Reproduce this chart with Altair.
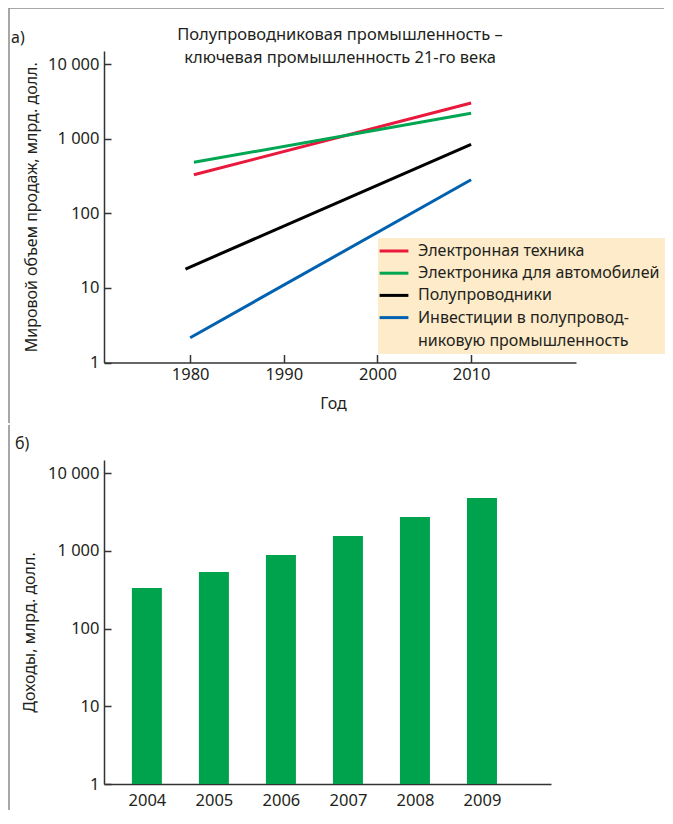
import altair as alt
import pandas as pd

FONT = "Noto Sans"
TXT = "#231f20"
AX = "#333333"

# ---------- panel a) data ----------
series_names = ["Электронная техника", "Электроника для автомобилей",
                "Полупроводники", "Инвестиции в полупроводниковую промышленность"]
series_colors = ["#e8193c", "#00a651", "#000000", "#0061b0"]
start_years = [1980.4, 1980.4, 1979.5, 1980.0]
end_years = [2010, 2010, 2010, 2010]
start_values = [329, 483, 17.9, 2.15]
end_values = [3010, 2190, 841, 282]
legend_last_lines = ["Инвестиции в полупровод-", "никовую промышленность"]

x_ticks_a = [1980, 1990, 2000, 2010]
y_tick_values = [1, 10, 100, 1000, 10000]
y_tick_labels = ["1", "10", "100", "1 000", "10 000"]

title_lines = ["Полупроводниковая промышленность –", "ключевая промышленность 21-го века"]

# ---------- panel б) data ----------
bar_years = [2004, 2005, 2006, 2007, 2008, 2009]
bar_values = [333, 535, 885, 1555, 2730, 4800]
bar_tick_marks = [2004.5, 2005.5, 2006.5, 2007.5, 2008.5]

rows = []
for n, y0, y1, v0, v1 in zip(series_names, start_years, end_years, start_values, end_values):
    rows.append({"series": n, "year": y0, "value": v0})
    rows.append({"series": n, "year": y1, "value": v1})
df_lines = pd.DataFrame(rows)
df_bars = pd.DataFrame({"year": bar_years, "value": bar_values})


def label_expr(vals, labels):
    expr = "''"
    for v, l in reversed(list(zip(vals, labels))):
        expr = f"datum.value == {v} ? '{l}' : ({expr})"
    return expr


one = pd.DataFrame({"a": [0]})

W1, H1 = 472, 311.5
W2, H2 = 447, 324

y_axis_common = dict(
    values=y_tick_values, labelExpr=label_expr(y_tick_values, y_tick_labels),
    tickSize={"expr": "-7"}, labelPadding=12, grid=False,
    domainColor=AX, domainWidth=1.5, tickColor=AX, tickWidth=1.5,
    labelFont=FONT, labelFontSize=16.5, labelColor=TXT,
    titleFont=FONT, titleFontSize=16, titleFontWeight="normal", titleColor=TXT,
)

# ---------- panel a) ----------
legend_expr = (f"datum.label == '{series_names[3]}' ? "
               f"['{legend_last_lines[0]}', '{legend_last_lines[1]}'] : datum.label")

lines = alt.Chart(df_lines).mark_line(strokeWidth=3, strokeCap="butt").encode(
    x=alt.X("year:Q", scale=alt.Scale(domain=[1970.8, 2021.2], nice=False, zero=False),
            axis=alt.Axis(values=x_ticks_a, format="d", tickSize={"expr": "-8"}, labelPadding=11.5,
                          grid=False, domainColor=AX, domainWidth=1.5, tickColor=AX, tickWidth=1.5,
                          labelFont=FONT, labelFontSize=16.5, labelColor=TXT, labelFlush=False,
                          title="Год", titleFont=FONT, titleFontSize=16, titleFontWeight="normal",
                          titleColor=TXT, titlePadding=13, titleX=229)),
    y=alt.Y("value:Q", scale=alt.Scale(type="log", domain=[1, 15000], nice=False),
            axis=alt.Axis(title="Мировой объем продаж, млрд. долл.", titlePadding=8, **y_axis_common)),
    color=alt.Color("series:N", scale=alt.Scale(domain=series_names, range=series_colors),
                    legend=alt.Legend(title=None, orient="none", legendX=274, legendY=187,
                                      fillColor="#fdebc9", padding=5, symbolType="M-2.4,0H2.4",
                                      symbolSize=144, symbolStrokeWidth=3, symbolOffset=3,
                                      symbolFillColor="transparent",
                                      labelOffset=16,
                                      labelFont=FONT, labelFontSize=16, labelColor=TXT,
                                      labelLimit=400, rowPadding=6.2, labelExpr=legend_expr)),
    order="year:Q",
)

frame_a_h = alt.Chart(one).mark_rule(color="#8a8a8a", strokeWidth=1.5).encode(
    x=alt.value(-95), x2=alt.value(560), y=alt.value(-43))
frame_a_v = alt.Chart(one).mark_rule(color="#8a8a8a", strokeWidth=1.5).encode(
    x=alt.value(-95), y=alt.value(-43), y2=alt.value(372))
label_a = alt.Chart(one).mark_text(text="а)", font=FONT, fontSize=16, color=TXT,
                                   align="left", baseline="middle").encode(
    x=alt.value(-93), y=alt.value(-13))
title_a1 = alt.Chart(one).mark_text(text=title_lines[0], font=FONT, fontSize=16.5, color=TXT,
                                    align="center", baseline="middle").encode(
    x=alt.value(W1 / 2), y=alt.value(-16.5))
title_a2 = alt.Chart(one).mark_text(text=title_lines[1], font=FONT, fontSize=16.5, color=TXT,
                                    align="center", baseline="middle").encode(
    x=alt.value(W1 / 2), y=alt.value(7))

top = alt.layer(frame_a_h, frame_a_v, label_a, title_a1, title_a2, lines).properties(width=W1, height=H1)

# ---------- panel б) ----------
x_vals_b = sorted(bar_years + bar_tick_marks)
bars = alt.Chart(df_bars).mark_bar(size=30, color="#00a34d").encode(
    x=alt.X("year:Q", scale=alt.Scale(domain=[2003.36, 2010.03], nice=False, zero=False, padding=0),
            axis=alt.Axis(values=x_vals_b, format="d", labelExpr="datum.value % 1 === 0 ? datum.label : ''",
                          tickOpacity={"condition": {"test": "datum.value % 1 === 0", "value": 0}, "value": 1},
                          tickSize={"expr": "-9"}, labelPadding=17, labelOverlap=False, labelFlush=False,
                          grid=False, domainColor=AX, domainWidth=1.5, tickColor=AX, tickWidth=1.5,
                          labelFont=FONT, labelFontSize=16.5, labelColor=TXT, title=None)),
    y=alt.Y("value:Q", scale=alt.Scale(type="log", domain=[1, 14800], nice=False),
            axis=alt.Axis(title="Доходы, млрд. долл.", titlePadding=10, titleY=172, **y_axis_common)),
    y2=alt.datum(1),
)

frame_b_v = alt.Chart(one).mark_rule(color="#8a8a8a", strokeWidth=1.5).encode(
    x=alt.value(-95), y=alt.value(-35), y2=alt.value(350))
label_b = alt.Chart(one).mark_text(text="б)", font=FONT, fontSize=16, color=TXT,
                                   align="left", baseline="middle").encode(
    x=alt.value(-89), y=alt.value(-16))

bottom = alt.layer(frame_b_v, label_b, bars).properties(width=W2, height=H2)

chart = alt.vconcat(top, bottom, spacing=0).properties(
    padding={"left": 0, "top": -1, "right": 0, "bottom": 0}
).configure(
    style={"guide-label": {"lineHeight": 23}},
    view={"stroke": None},
)

chart.save("out.html", embed_options={"renderer": "svg", "actions": False})
